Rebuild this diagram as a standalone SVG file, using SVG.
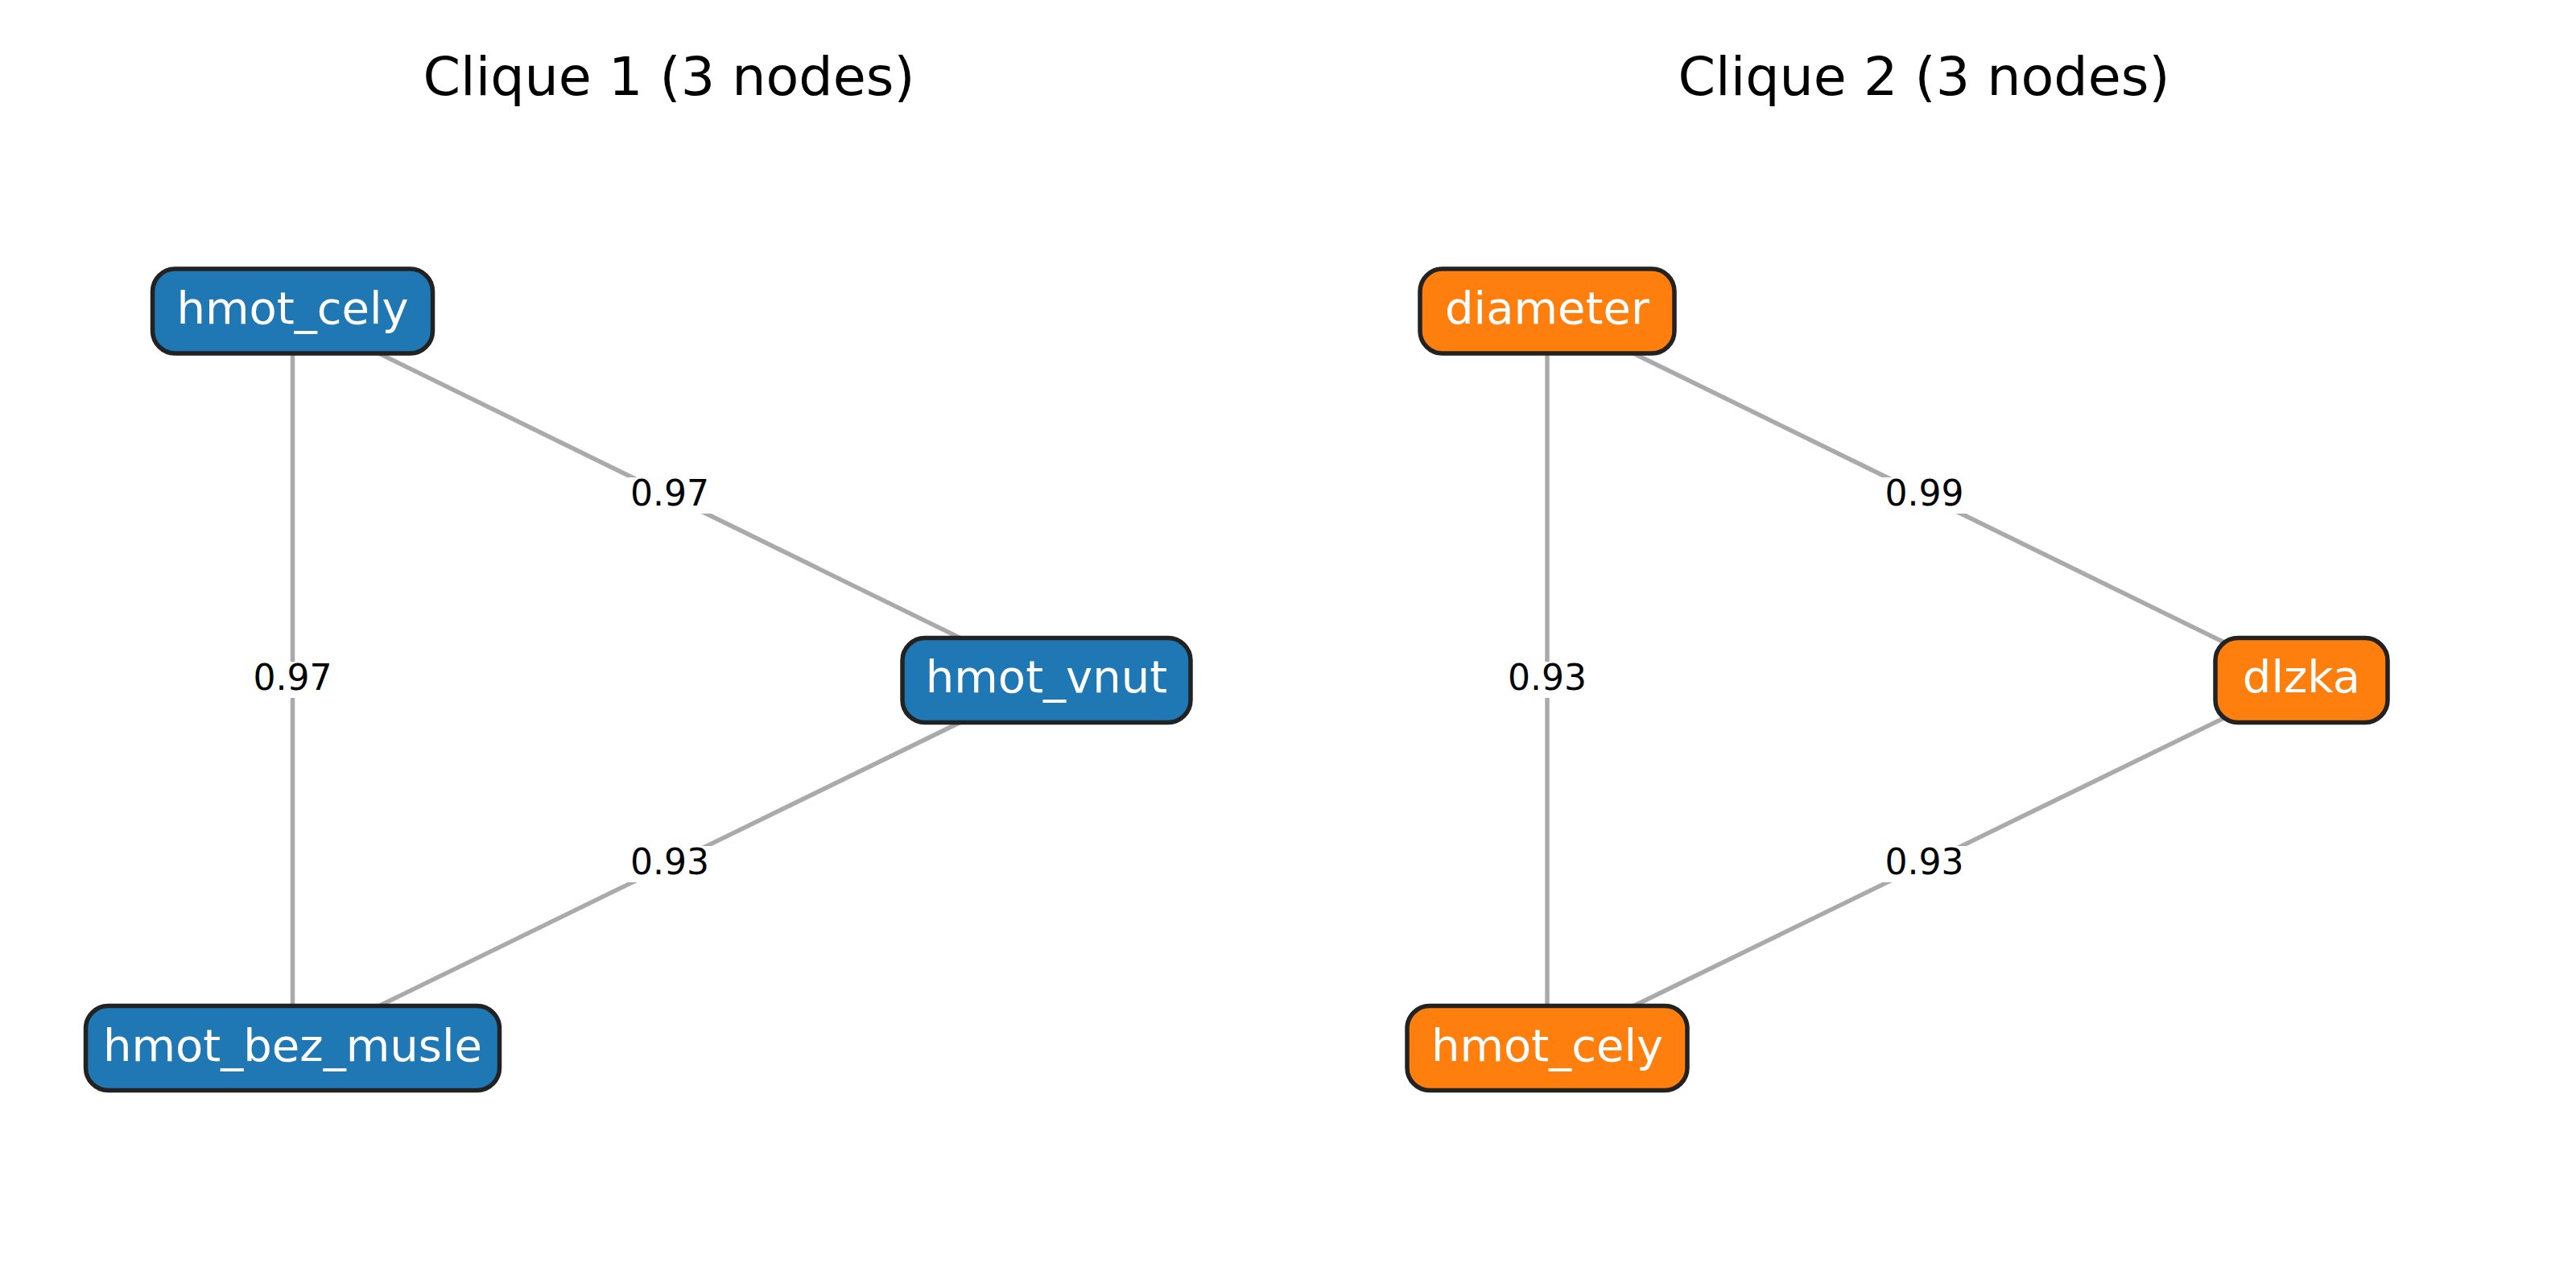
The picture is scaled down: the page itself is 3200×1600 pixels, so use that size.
<svg xmlns="http://www.w3.org/2000/svg" width="3200" height="1600" viewBox="0 0 3200 1600">
<style>
  .title { font-family: "DejaVu Sans", "Liberation Sans", sans-serif; font-size: 66.7px; fill: #000; text-anchor: middle; }
  .edge { stroke: #aaaaaa; stroke-width: 5.5; fill: none; }
  .lblbg { fill: #ffffff; stroke: none; }
  .lbl { font-family: "DejaVu Sans", "Liberation Sans", sans-serif; font-size: 44px; fill: #000; text-anchor: middle; }
  .box { stroke: #222222; stroke-width: 5.5; }
  .blue { fill: #1f77b4; }
  .orange { fill: #ff7f0e; }
  .ntext { font-family: "DejaVu Sans", "Liberation Sans", sans-serif; font-size: 56px; fill: #ffffff; text-anchor: middle; }
</style>
<rect x="0" y="0" width="3200" height="1600" fill="#ffffff"/>
<text class="title" x="831" y="118">Clique 1 (3 nodes)</text>
<text class="title" x="2390" y="118">Clique 2 (3 nodes)</text>
<g id="connectors">
  <line class="edge" x1="363.5" y1="386.5" x2="1300" y2="845"/>
  <line class="edge" x1="363.5" y1="386.5" x2="363.5" y2="1302"/>
  <line class="edge" x1="1300" y1="845" x2="363.5" y2="1302"/>
  <line class="edge" x1="1922" y1="386.5" x2="2859" y2="845"/>
  <line class="edge" x1="1922" y1="386.5" x2="1922" y2="1302"/>
  <line class="edge" x1="2859" y1="845" x2="1922" y2="1302"/>
  <g id="edge-labels">
    <rect class="lblbg" x="780" y="593" width="104" height="45"/>
    <text class="lbl" x="832" y="628">0.97</text>
    <rect class="lblbg" x="311.5" y="822" width="104" height="45"/>
    <text class="lbl" x="363.5" y="857">0.97</text>
    <rect class="lblbg" x="780" y="1051" width="104" height="45"/>
    <text class="lbl" x="832" y="1086">0.93</text>
    <rect class="lblbg" x="2338.5" y="593" width="104" height="45"/>
    <text class="lbl" x="2390.5" y="628">0.99</text>
    <rect class="lblbg" x="1870" y="822" width="104" height="45"/>
    <text class="lbl" x="1922" y="857">0.93</text>
    <rect class="lblbg" x="2338.5" y="1051" width="104" height="45"/>
    <text class="lbl" x="2390.5" y="1086">0.93</text>
  </g>
</g>
<g id="node-c1-hmot_cely">
  <rect class="box blue" x="189.5" y="334" width="348" height="105" rx="28"/>
  <text class="ntext" x="363.5" y="402">hmot_cely</text>
</g>
<g id="node-c1-hmot_vnut">
  <rect class="box blue" x="1121" y="792.5" width="358" height="105" rx="28"/>
  <text class="ntext" x="1300" y="860">hmot_vnut</text>
</g>
<g id="node-c1-hmot_bez_musle">
  <rect class="box blue" x="106.5" y="1249.5" width="514" height="105" rx="28"/>
  <text class="ntext" x="363.5" y="1317.5">hmot_bez_musle</text>
</g>
<g id="node-c2-diameter">
  <rect class="box orange" x="1764" y="334" width="316" height="105" rx="28"/>
  <text class="ntext" x="1922" y="402">diameter</text>
</g>
<g id="node-c2-dlzka">
  <rect class="box orange" x="2752" y="792.5" width="214" height="105" rx="28"/>
  <text class="ntext" x="2859" y="860">dlzka</text>
</g>
<g id="node-c2-hmot_cely">
  <rect class="box orange" x="1748" y="1249.5" width="348" height="105" rx="28"/>
  <text class="ntext" x="1922" y="1317.5">hmot_cely</text>
</g>
</svg>
